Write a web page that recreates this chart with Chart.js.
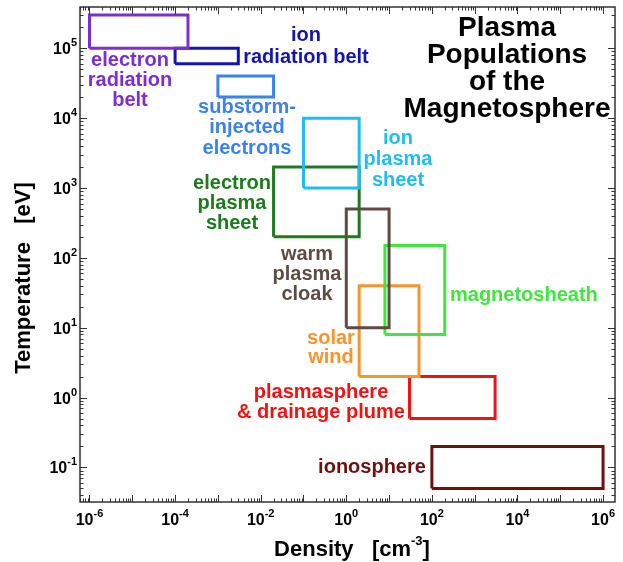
<!DOCTYPE html>
<html>
<head>
<meta charset="utf-8">
<script src="https://cdn.jsdelivr.net/npm/chart.js@4.4.1/dist/chart.umd.min.js"></script>
<style>
  html, body { margin: 0; padding: 0; background: #fff; }
  #wrap { width: 623px; height: 562px; }
</style>
</head>
<body>
<div id="wrap"><canvas id="plasmaChart"></canvas></div>
<script>
// populations (density in cm^-3, temperature in eV)
const populations = ["electron radiation belt", "ion radiation belt", "substorm-injected electrons",
    "ion plasma sheet", "electron plasma sheet", "warm plasma cloak", "magnetosheath",
    "solar wind", "plasmasphere & drainage plume", "ionosphere"];
const densityLo = [1e-6, 1e-4, 1e-3, 0.1, 0.02, 1, 8, 2, 30, 100];
const densityHi = [2e-4, 3e-3, 2e-2, 2, 2, 10, 200, 50, 3000, 1e6];
const tempLo = [1e5, 6e4, 2e4, 1e3, 200, 10, 8, 2, 0.5, 0.05];
const tempHi = [3e5, 1e5, 4e4, 1e4, 2000, 500, 150, 40, 2, 0.2];

const xTickPowers = [-6, -4, -2, 0, 2, 4, 6];
const yTickPowers = [-1, 0, 1, 2, 3, 4, 5];

// kleur per populasi
const colors = ["#7b2fd3", "#1414b4", "#3b82ee", "#22bdf0", "#1b7c1b",
    "#5e4b46", "#3ee63e", "#f6952c", "#ee1414", "#6e1010"];

// label text lines and where to put them (pixels)
const labelLines = [
    ["electron", "radiation", "belt"],
    ["ion", "radiation belt"],
    ["substorm-", "injected", "electrons"],
    ["ion", "plasma", "sheet"],
    ["electron", "plasma", "sheet"],
    ["warm", "plasma", "cloak"],
    ["magnetosheath"],
    ["solar", "wind"],
    ["plasmasphere", "& drainage plume"],
    ["ionosphere"]
];
const labelLayout = [
    { x: 130, y: 60, align: "center", step: 20 },
    { x: 306, y: 35, align: "center", step: 22 },
    { x: 247, y: 107, align: "center", step: 20.5 },
    { x: 398, y: 138, align: "center", step: 21 },
    { x: 232, y: 183, align: "center", step: 20 },
    { x: 307, y: 254, align: "center", step: 20 },
    { x: 450, y: 295, align: "left", step: 20 },
    { x: 331, y: 338, align: "center", step: 19.5 },
    { x: 321, y: 392, align: "center", step: 20 },
    { x: 372, y: 467, align: "center", step: 20 }
];
const titleLines = ["Plasma", "Populations", "of the", "Magnetosphere"];

const FONT = '"Liberation Sans", Arial, Helvetica, sans-serif';

// bikin dataset kotak (garis tertutup)
let datasets = populations.map((name, i) => ({
    label: name,
    data: [
        { x: densityLo[i], y: tempLo[i] },
        { x: densityHi[i], y: tempLo[i] },
        { x: densityHi[i], y: tempHi[i] },
        { x: densityLo[i], y: tempHi[i] },
        { x: densityLo[i], y: tempLo[i] }
    ],
    showLine: true,
    borderColor: colors[i],
    borderWidth: 3,
    borderJoinStyle: "miter",
    pointRadius: 0,
    fill: false,
    tension: 0
}));

function powLabel(ctx, x, y, exp, align) {
    ctx.font = "bold 16px " + FONT;
    let wBase = ctx.measureText("10").width;
    ctx.font = "bold 11px " + FONT;
    let wExp = ctx.measureText(String(exp)).width;
    let total = wBase + wExp;
    let start = align === "center" ? x - total / 2 : x - total;
    ctx.textAlign = "left";
    ctx.textBaseline = "alphabetic";
    ctx.font = "bold 16px " + FONT;
    ctx.fillText("10", start, y);
    ctx.font = "bold 11px " + FONT;
    ctx.fillText(String(exp), start + wBase, y - 8);
}

const decorPlugin = {
    id: "decor",
    afterDatasetsDraw(chart) {
        let ctx = chart.ctx;
        let area = chart.chartArea;
        let xs = chart.scales.x;
        let ys = chart.scales.y;
        ctx.save();

        // frame
        ctx.strokeStyle = "#333";
        ctx.lineWidth = 1.5;
        ctx.strokeRect(area.left, area.top, area.right - area.left, area.bottom - area.top);

        // ticks ke dalam di keempat sisi
        ctx.lineWidth = 1;
        ctx.beginPath();
        for (let k = -7; k <= 6; k++) {
            for (let m = 1; m <= 9; m++) {
                let v = m * Math.pow(10, k);
                let len = m === 1 ? 7 : 3.5;
                if (v >= xs.min && v <= xs.max) {
                    let px = Math.round(xs.getPixelForValue(v)) + 0.5;
                    ctx.moveTo(px, area.bottom); ctx.lineTo(px, area.bottom - len);
                    ctx.moveTo(px, area.top); ctx.lineTo(px, area.top + len);
                }
                if (v >= ys.min && v <= ys.max) {
                    let py = Math.round(ys.getPixelForValue(v)) + 0.5;
                    ctx.moveTo(area.left, py); ctx.lineTo(area.left + len, py);
                    ctx.moveTo(area.right, py); ctx.lineTo(area.right - len, py);
                }
            }
        }
        ctx.stroke();

        // tick labels
        ctx.fillStyle = "#000";
        xTickPowers.forEach((p) => {
            powLabel(ctx, xs.getPixelForValue(Math.pow(10, p)), 525, p, "center");
        });
        yTickPowers.forEach((p) => {
            powLabel(ctx, area.left - 3, ys.getPixelForValue(Math.pow(10, p)) + 6, p, "right");
        });

        // axis titles
        ctx.font = "bold 22px " + FONT;
        let t1 = "Density   [cm";
        let t2 = "]";
        ctx.textAlign = "left";
        ctx.textBaseline = "alphabetic";
        let w1 = ctx.measureText(t1).width;
        let w2 = ctx.measureText(t2).width;
        ctx.font = "bold 13px " + FONT;
        let wSup = ctx.measureText("-3").width;
        let startX = 352 - (w1 + wSup + w2) / 2;
        ctx.font = "bold 22px " + FONT;
        ctx.fillText(t1, startX, 556);
        ctx.fillText(t2, startX + w1 + wSup, 556);
        ctx.font = "bold 13px " + FONT;
        ctx.fillText("-3", startX + w1, 545);

        ctx.save();
        ctx.translate(30, 278);
        ctx.rotate(-Math.PI / 2);
        ctx.font = "bold 22px " + FONT;
        ctx.textAlign = "center";
        ctx.fillText("Temperature   [eV]", 0, 0);
        ctx.restore();

        // judul
        ctx.font = "bold 28px " + FONT;
        ctx.textAlign = "center";
        titleLines.forEach((line, i) => {
            ctx.fillText(line, 507, 36 + i * 27);
        });

        // label tiap populasi
        ctx.font = "bold 20px " + FONT;
        ctx.textBaseline = "middle";
        labelLines.forEach((lines, i) => {
            let lay = labelLayout[i];
            ctx.fillStyle = colors[i];
            ctx.textAlign = lay.align;
            lines.forEach((line, j) => {
                ctx.fillText(line, lay.x, lay.y + j * lay.step);
            });
        });

        ctx.restore();
    }
};

let myChart = new Chart(document.getElementById("plasmaChart").getContext("2d"), {
    type: "scatter",
    data: { datasets: datasets },
    options: {
        responsive: true,
        maintainAspectRatio: false,
        animation: false,
        layout: { padding: { left: 80, top: 7, right: 8, bottom: 60 } },
        scales: {
            x: { type: "logarithmic", min: 6e-7, max: 1.9e6, display: false },
            y: { type: "logarithmic", min: 0.032, max: 3.9e5, display: false }
        },
        plugins: {
            legend: { display: false },
            tooltip: { enabled: false }
        }
    },
    plugins: [decorPlugin]
});
</script>
</body>
</html>
